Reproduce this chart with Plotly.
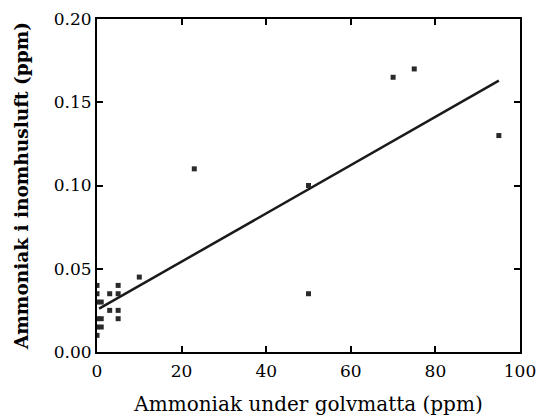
import plotly.graph_objects as go

x_vals = [0, 0, 0, 0, 0, 0, 1, 1, 1, 3, 3, 5, 5, 5, 5, 10, 23, 50, 50, 70, 75, 95]
y_vals = [0.04, 0.035, 0.03, 0.02, 0.015, 0.01, 0.03, 0.02, 0.015, 0.035, 0.025,
          0.04, 0.035, 0.025, 0.02, 0.045, 0.11, 0.10, 0.035, 0.165, 0.17, 0.13]
fit_x = [0.5, 95]
fit_y = [0.026, 0.163]

x_title = "Ammoniak under golvmatta (ppm)"
y_title = "<b>Ammoniak i inomhusluft (ppm)</b>"

font = "DejaVu Serif, serif"

fig = go.Figure()
fig.add_trace(go.Scatter(x=fit_x, y=fit_y, mode="lines",
                         line=dict(color="#1a1a1a", width=2.5), showlegend=False))
fig.add_trace(go.Scatter(x=x_vals, y=y_vals, mode="markers",
                         marker=dict(symbol="square", size=5, color="#2a2a2a"),
                         showlegend=False))

axis_common = dict(showline=True, linecolor="black", linewidth=2, mirror="ticks",
                   ticks="inside", ticklen=6, tickwidth=1.5, tickcolor="black",
                   showgrid=False, zeroline=False, automargin=False,
                   tickfont=dict(family=font, size=17, color="black"))

fig.update_xaxes(range=[0, 100], tickvals=[0, 20, 40, 60, 80, 100],
                 ticklabelstandoff=3,
                 title=dict(text=x_title, font=dict(family=font, size=20, color="black"), standoff=18),
                 **axis_common)
fig.update_yaxes(range=[0, 0.20], tickvals=[0, 0.05, 0.10, 0.15, 0.20], tickformat=".2f",
                 title=dict(text=y_title, font=dict(family=font, size=18.5, color="black"), standoff=20),
                 **axis_common)

fig.update_layout(width=538, height=416, margin=dict(l=97, r=18, t=19, b=64),
                  paper_bgcolor="white", plot_bgcolor="white")

fig.write_html("out.html")
